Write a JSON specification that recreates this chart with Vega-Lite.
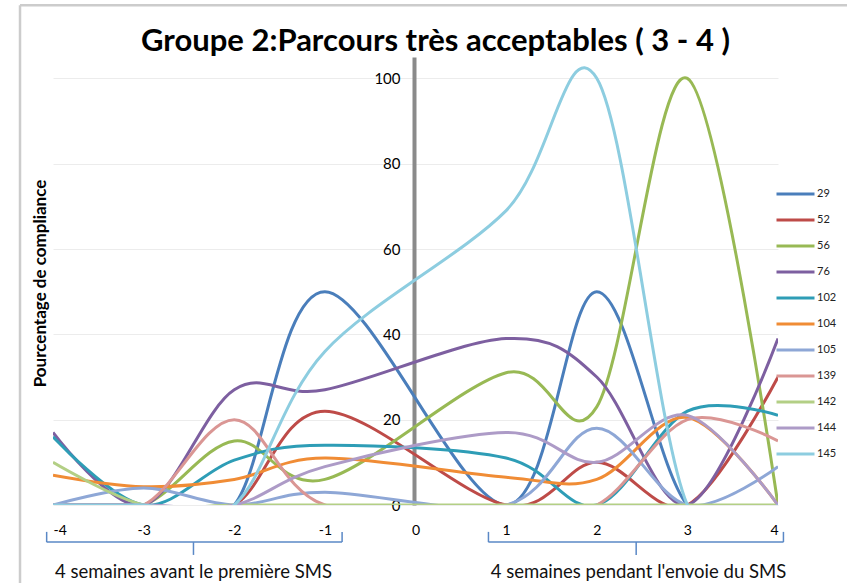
{
  "$schema": "https://vega.github.io/schema/vega-lite/v6.json",
  "autosize": {"type": "none"},
  "width": 725,
  "height": 448,
  "padding": {"left": 53, "top": 57, "right": 69, "bottom": 78},
  "background": "white",
  "config": {"view": {"stroke": null}, "font": "Lato"},
  "title": {
    "text": "Groupe 2:Parcours très acceptables ( 3 - 4 )",
    "font": "Lato", "fontSize": 31, "fontWeight": "bold", "color": "#000",
    "anchor": "middle", "dx": 20, "dy": 82, "offset": 4, "baseline": "alphabetic"
  },
  "datasets": {
    "compliance": [
      {"semaine": -4, "id": "29", "pourcentage": 0}, {"semaine": -3, "id": "29", "pourcentage": 0}, {"semaine": -2, "id": "29", "pourcentage": 0}, {"semaine": -1, "id": "29", "pourcentage": 50}, {"semaine": 1, "id": "29", "pourcentage": 0}, {"semaine": 2, "id": "29", "pourcentage": 50}, {"semaine": 3, "id": "29", "pourcentage": 0}, {"semaine": 4, "id": "29", "pourcentage": 0},
      {"semaine": -4, "id": "52", "pourcentage": 0}, {"semaine": -3, "id": "52", "pourcentage": 0}, {"semaine": -2, "id": "52", "pourcentage": 0}, {"semaine": -1, "id": "52", "pourcentage": 22}, {"semaine": 1, "id": "52", "pourcentage": 0}, {"semaine": 2, "id": "52", "pourcentage": 10}, {"semaine": 3, "id": "52", "pourcentage": 0}, {"semaine": 4, "id": "52", "pourcentage": 30},
      {"semaine": -4, "id": "56", "pourcentage": 0}, {"semaine": -3, "id": "56", "pourcentage": 0}, {"semaine": -2, "id": "56", "pourcentage": 15}, {"semaine": -1, "id": "56", "pourcentage": 6}, {"semaine": 1, "id": "56", "pourcentage": 31}, {"semaine": 2, "id": "56", "pourcentage": 23}, {"semaine": 3, "id": "56", "pourcentage": 100}, {"semaine": 4, "id": "56", "pourcentage": 0},
      {"semaine": -4, "id": "76", "pourcentage": 17}, {"semaine": -3, "id": "76", "pourcentage": 0}, {"semaine": -2, "id": "76", "pourcentage": 27}, {"semaine": -1, "id": "76", "pourcentage": 27}, {"semaine": 1, "id": "76", "pourcentage": 39}, {"semaine": 2, "id": "76", "pourcentage": 30}, {"semaine": 3, "id": "76", "pourcentage": 0}, {"semaine": 4, "id": "76", "pourcentage": 39},
      {"semaine": -4, "id": "102", "pourcentage": 16}, {"semaine": -3, "id": "102", "pourcentage": 0}, {"semaine": -2, "id": "102", "pourcentage": 10.5}, {"semaine": -1, "id": "102", "pourcentage": 14}, {"semaine": 1, "id": "102", "pourcentage": 11}, {"semaine": 2, "id": "102", "pourcentage": 0}, {"semaine": 3, "id": "102", "pourcentage": 22}, {"semaine": 4, "id": "102", "pourcentage": 21},
      {"semaine": -4, "id": "104", "pourcentage": 7}, {"semaine": -3, "id": "104", "pourcentage": 4.3}, {"semaine": -2, "id": "104", "pourcentage": 6}, {"semaine": -1, "id": "104", "pourcentage": 11}, {"semaine": 1, "id": "104", "pourcentage": 6.5}, {"semaine": 2, "id": "104", "pourcentage": 6}, {"semaine": 3, "id": "104", "pourcentage": 20.5}, {"semaine": 4, "id": "104", "pourcentage": 0},
      {"semaine": -4, "id": "105", "pourcentage": 0}, {"semaine": -3, "id": "105", "pourcentage": 4}, {"semaine": -2, "id": "105", "pourcentage": 0}, {"semaine": -1, "id": "105", "pourcentage": 3}, {"semaine": 1, "id": "105", "pourcentage": 0}, {"semaine": 2, "id": "105", "pourcentage": 18}, {"semaine": 3, "id": "105", "pourcentage": 0}, {"semaine": 4, "id": "105", "pourcentage": 9},
      {"semaine": -4, "id": "139", "pourcentage": 0}, {"semaine": -3, "id": "139", "pourcentage": 0}, {"semaine": -2, "id": "139", "pourcentage": 20}, {"semaine": -1, "id": "139", "pourcentage": 0}, {"semaine": 1, "id": "139", "pourcentage": 0}, {"semaine": 2, "id": "139", "pourcentage": 0}, {"semaine": 3, "id": "139", "pourcentage": 20}, {"semaine": 4, "id": "139", "pourcentage": 15},
      {"semaine": -4, "id": "142", "pourcentage": 10}, {"semaine": -3, "id": "142", "pourcentage": 0}, {"semaine": -2, "id": "142", "pourcentage": 0}, {"semaine": -1, "id": "142", "pourcentage": 0}, {"semaine": 1, "id": "142", "pourcentage": 0}, {"semaine": 2, "id": "142", "pourcentage": 0}, {"semaine": 3, "id": "142", "pourcentage": 0}, {"semaine": 4, "id": "142", "pourcentage": 0},
      {"semaine": -4, "id": "144", "pourcentage": 0}, {"semaine": -3, "id": "144", "pourcentage": 0}, {"semaine": -2, "id": "144", "pourcentage": 0}, {"semaine": -1, "id": "144", "pourcentage": 9}, {"semaine": 1, "id": "144", "pourcentage": 17}, {"semaine": 2, "id": "144", "pourcentage": 10}, {"semaine": 3, "id": "144", "pourcentage": 21}, {"semaine": 4, "id": "144", "pourcentage": 0},
      {"semaine": -4, "id": "145", "pourcentage": 0}, {"semaine": -3, "id": "145", "pourcentage": 0}, {"semaine": -2, "id": "145", "pourcentage": 0}, {"semaine": -1, "id": "145", "pourcentage": 36}, {"semaine": 1, "id": "145", "pourcentage": 69}, {"semaine": 2, "id": "145", "pourcentage": 100}, {"semaine": 3, "id": "145", "pourcentage": 0}, {"semaine": 4, "id": "145", "pourcentage": 0}
    ]
  },
  "layer": [
    {
      "data": {"name": "compliance"},
      "mark": {"type": "line", "interpolate": "cardinal", "strokeWidth": 3, "clip": true},
      "encoding": {
        "x": {
          "field": "semaine", "type": "quantitative",
          "scale": {"domain": [-4, 4], "nice": false, "zero": false},
          "axis": {
            "values": [-4, -3, -2, -1, 0, 1, 2, 3, 4], "labelExpr": "'' + datum.value",
            "title": null, "grid": false, "domain": false, "ticks": false,
            "labelFont": "Lato", "labelFontSize": 14, "labelPadding": 18, "labelColor": "#000"
          }
        },
        "y": {
          "field": "pourcentage", "type": "quantitative",
          "scale": {"domain": [0, 105], "nice": false},
          "axis": {
            "values": [0, 20, 40, 60, 80, 100], "offset": -361,
            "grid": true, "gridColor": "#ececec", "gridWidth": 1,
            "domain": true, "domainColor": "#8a8a8a", "domainWidth": 4,
            "ticks": false, "labelPadding": 14, "labelFont": "Lato", "labelFontSize": 15, "labelColor": "#000",
            "title": "Pourcentage de compliance", "titleX": -374, "titleY": 226, "titleAngle": -90,
            "titleFont": "Lato", "titleFontSize": 17, "titleFontWeight": "bold", "titleColor": "#000",
            "titleAlign": "center", "titleBaseline": "middle"
          }
        },
        "color": {
          "field": "id", "type": "nominal",
          "sort": ["29", "52", "56", "76", "102", "104", "105", "139", "142", "144", "145"],
          "scale": {
            "domain": ["29", "52", "56", "76", "102", "104", "105", "139", "142", "144", "145"],
            "range": ["#4a7ebb", "#be4b48", "#98b954", "#7d5fa0", "#2e9db6", "#f08c35", "#8ea7d6", "#da9694", "#b3cf85", "#ad9bc7", "#8dcde0"]
          },
          "legend": {
            "title": null, "orient": "none", "legendX": 722, "legendY": 124.5,
            "symbolType": "stroke", "symbolSize": 1444, "symbolStrokeWidth": 3,
            "labelFont": "Lato", "labelFontSize": 11, "labelColor": "#222", "labelOffset": 1,
            "rowPadding": 0, "clipHeight": 25.2
          }
        }
      }
    },
    {
      "data": {"values": [{}]},
      "mark": {"type": "rule", "color": "#cccccc", "strokeWidth": 2.5},
      "encoding": {
        "x": {"datum": -4.364, "type": "quantitative"},
        "y": {"datum": 117.1, "type": "quantitative"},
        "y2": {"datum": -20}
      }
    },
    {
      "data": {"values": [{}]},
      "mark": {"type": "rule", "color": "#cccccc", "strokeWidth": 2.5},
      "encoding": {
        "x": {"datum": -4.364, "type": "quantitative"},
        "x2": {"datum": 4.9},
        "y": {"datum": 117.1, "type": "quantitative"}
      }
    },
    {
      "data": {"values": [{}]},
      "mark": {"type": "rule", "color": "#5a88c6", "strokeWidth": 1.5},
      "encoding": {"x": {"datum": -4.07, "type": "quantitative"}, "x2": {"datum": -0.81}, "y": {"datum": -8.7, "type": "quantitative"}}
    },
    {
      "data": {"values": [{}]},
      "mark": {"type": "rule", "color": "#5a88c6", "strokeWidth": 1.5},
      "encoding": {"x": {"datum": -4.07, "type": "quantitative"}, "y": {"datum": -6.3, "type": "quantitative"}, "y2": {"datum": -8.7}}
    },
    {
      "data": {"values": [{}]},
      "mark": {"type": "rule", "color": "#5a88c6", "strokeWidth": 1.5},
      "encoding": {"x": {"datum": -0.81, "type": "quantitative"}, "y": {"datum": -6.3, "type": "quantitative"}, "y2": {"datum": -8.7}}
    },
    {
      "data": {"values": [{}]},
      "mark": {"type": "rule", "color": "#5a88c6", "strokeWidth": 1.5},
      "encoding": {"x": {"datum": -2.45, "type": "quantitative"}, "y": {"datum": -8.7, "type": "quantitative"}, "y2": {"datum": -11.7}}
    },
    {
      "data": {"values": [{}]},
      "mark": {"type": "rule", "color": "#5a88c6", "strokeWidth": 1.5},
      "encoding": {"x": {"datum": 0.805, "type": "quantitative"}, "x2": {"datum": 4.06}, "y": {"datum": -8.7, "type": "quantitative"}}
    },
    {
      "data": {"values": [{}]},
      "mark": {"type": "rule", "color": "#5a88c6", "strokeWidth": 1.5},
      "encoding": {"x": {"datum": 0.805, "type": "quantitative"}, "y": {"datum": -6.3, "type": "quantitative"}, "y2": {"datum": -8.7}}
    },
    {
      "data": {"values": [{}]},
      "mark": {"type": "rule", "color": "#5a88c6", "strokeWidth": 1.5},
      "encoding": {"x": {"datum": 4.06, "type": "quantitative"}, "y": {"datum": -6.3, "type": "quantitative"}, "y2": {"datum": -8.7}}
    },
    {
      "data": {"values": [{}]},
      "mark": {"type": "rule", "color": "#5a88c6", "strokeWidth": 1.5},
      "encoding": {"x": {"datum": 2.435, "type": "quantitative"}, "y": {"datum": -8.7, "type": "quantitative"}, "y2": {"datum": -11.7}}
    },
    {
      "data": {"values": [{}]},
      "mark": {"type": "text", "font": "Lato", "fontSize": 18.5, "color": "#111", "align": "center", "baseline": "middle"},
      "encoding": {"x": {"datum": -2.45, "type": "quantitative"}, "y": {"datum": -15.7, "type": "quantitative"}, "text": {"value": "4 semaines avant le première SMS"}}
    },
    {
      "data": {"values": [{}]},
      "mark": {"type": "text", "font": "Lato", "fontSize": 18.5, "color": "#111", "align": "center", "baseline": "middle"},
      "encoding": {"x": {"datum": 2.46, "type": "quantitative"}, "y": {"datum": -15.7, "type": "quantitative"}, "text": {"value": "4 semaines pendant l'envoie du SMS"}}
    }
  ]
}
